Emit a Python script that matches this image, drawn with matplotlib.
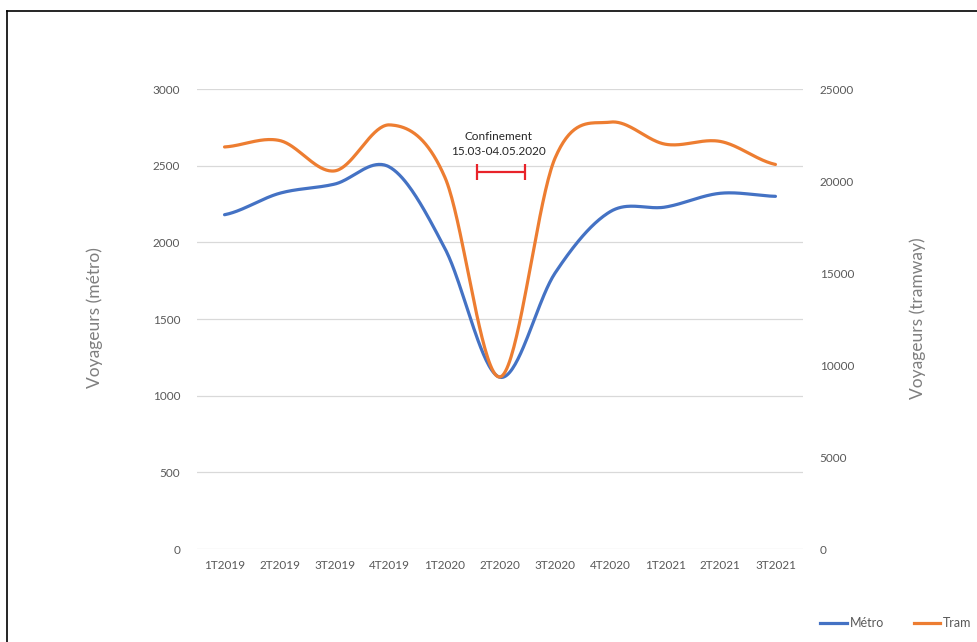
import numpy as np
import matplotlib
matplotlib.use("Agg")
import matplotlib.pyplot as plt
from matplotlib.lines import Line2D

plt.rcParams['font.family'] = ['Lato', 'DejaVu Sans']

quarters = ["1T2019", "2T2019", "3T2019", "4T2019", "1T2020", "2T2020",
            "3T2020", "4T2020", "1T2021", "2T2021", "3T2021"]
metro = [2180, 2320, 2380, 2490, 1960, 1120, 1800, 2200, 2230, 2320, 2300]
tram = [21850, 22200, 20550, 23050, 20200, 9350, 21250, 23200, 22000, 22150, 20900]

metro_ticks = [0, 500, 1000, 1500, 2000, 2500, 3000]
tram_ticks = [0, 5000, 10000, 15000, 20000, 25000]

# Lockdown window (positions on the quarter axis) and its annotation level
confinement_span = (4.575, 5.46)
confinement_level = 2461
confinement_label = "Confinement\n15.03-04.05.2020"

BLUE = "#4472C4"
ORANGE = "#ED7D31"
GREY = "#595959"


def smooth(values, n=40):
    """Catmull-Rom spline through the points (spreadsheet-style smoothed line)."""
    y = np.asarray(values, dtype=float)
    x = np.arange(len(y), dtype=float)
    xs, ys = [], []
    for i in range(len(y) - 1):
        p0 = y[i - 1] if i > 0 else y[i]
        p1, p2 = y[i], y[i + 1]
        p3 = y[i + 2] if i + 2 < len(y) else y[i + 1]
        c1 = p1 + (p2 - p0) / 6.0
        c2 = p2 - (p3 - p1) / 6.0
        t = np.linspace(0, 1, n, endpoint=(i == len(y) - 2))
        b = ((1 - t) ** 3) * p1 + 3 * ((1 - t) ** 2) * t * c1 + 3 * (1 - t) * t ** 2 * c2 + t ** 3 * p2
        xs.append(x[i] + t)
        ys.append(b)
    return np.concatenate(xs), np.concatenate(ys)


fig = plt.figure(figsize=(9.77, 6.42), dpi=100)
ax = fig.add_axes([197 / 977, 1 - 549 / 642, (803 - 197) / 977, (549 - 89) / 642])
ax2 = ax.twinx()

xm, ym = smooth(metro)
ax.plot(xm, ym, color=BLUE, lw=2.3, solid_capstyle='round', zorder=3)
xt, yt = smooth(tram)
ax2.plot(xt, yt, color=ORANGE, lw=2.3, solid_capstyle='round', zorder=3)

ax.set_xlim(-0.5, len(quarters) - 0.5)
ax.set_ylim(0, 3000)
ax2.set_ylim(0, 25000)
ax.set_xticks(range(len(quarters)))
ax.set_xticklabels(quarters)
ax.set_yticks(metro_ticks)
ax2.set_yticks(tram_ticks)

ax.grid(axis='y', color='#d9d9d9', lw=0.9)
ax.set_axisbelow(True)
for a in (ax, ax2):
    for s in a.spines.values():
        s.set_visible(False)
    a.tick_params(length=0, labelsize=8.5, labelcolor=GREY)
ax.tick_params(axis='y', pad=12)
ax2.tick_params(axis='y', pad=12)
ax.tick_params(axis='x', pad=8)

fig.text(95 / 977, 1 - 318 / 642, "Voyageurs (métro)", rotation=90,
         ha='center', va='center', fontsize=12.5, color='#7f7f7f')
fig.text(918 / 977, 1 - 318 / 642, "Voyageurs (tramway)", rotation=90,
         ha='center', va='center', fontsize=12.5, color='#7f7f7f')

# Lockdown marker
mid = (confinement_span[0] + confinement_span[1]) / 2
half = (confinement_span[1] - confinement_span[0]) / 2
ax.errorbar([mid], [confinement_level], xerr=[[half], [half]], fmt='none',
            ecolor='#E8232A', elinewidth=1.6, capsize=6, capthick=1.6, zorder=4)
ax.text(4.97, 2640, confinement_label, ha='center', va='center',
        fontsize=8.5, color='#262626', linespacing=1.45)

handles = [Line2D([], [], color=BLUE, lw=2.3), Line2D([], [], color=ORANGE, lw=2.3)]
fig.legend(handles, ["Métro", "Tram"], loc='center', ncol=2, frameon=False,
           bbox_to_anchor=(896 / 977, 1 - 623 / 642), fontsize=9,
           labelcolor=GREY, handlelength=2.1, handletextpad=0.25, columnspacing=2.4)

# Outer frame (top and left edges only fall inside the canvas)
fig.add_artist(Line2D([7 / 977, 7 / 977], [0, 1 - 11 / 642], transform=fig.transFigure,
                      color='black', lw=1.2))
fig.add_artist(Line2D([7 / 977, 1], [1 - 11 / 642, 1 - 11 / 642], transform=fig.transFigure,
                      color='black', lw=1.2))

fig.savefig("out.png", dpi=100, facecolor='white')
